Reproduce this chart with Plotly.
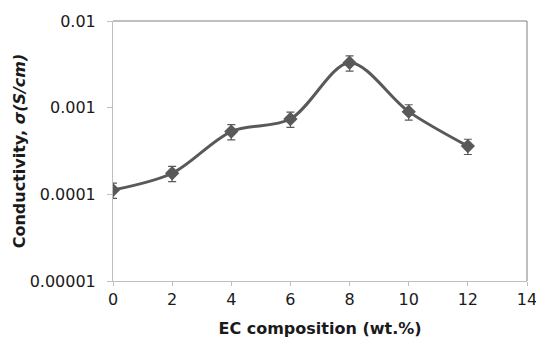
import plotly.graph_objects as go

ec = [0, 2, 4, 6, 8, 10, 12]
conductivity = [1.12e-4, 1.75e-4, 5.3e-4, 7.4e-4, 3.3e-3, 9.0e-4, 3.6e-4]
err_frac = 0.2
errors = [v * err_frac for v in conductivity]

x_ticks = [0, 2, 4, 6, 8, 10, 12, 14]
y_ticks = [1e-5, 1e-4, 1e-3, 1e-2]
y_tick_labels = ["0.00001", "0.0001", "0.001", "0.01"]

grey = "#595959"
font = "DejaVu Sans"

fig = go.Figure()
fig.add_trace(go.Scatter(
    x=ec, y=conductivity, mode="lines+markers",
    line=dict(color=grey, width=3, shape="spline", smoothing=0.9),
    marker=dict(symbol="diamond", size=11, color=grey),
    error_y=dict(type="data", array=errors, visible=True, color=grey, thickness=1.2, width=4),
    showlegend=False,
))

fig.update_layout(
    width=536, height=338,
    margin=dict(l=113, r=9, t=21, b=57, autoexpand=False),
    paper_bgcolor="white", plot_bgcolor="white",
    font=dict(family=font, size=16, color="#1a1a1a"),
    xaxis=dict(range=[0, 14], tickvals=x_ticks, showgrid=False, zeroline=False,
               showline=True, linecolor="#bfbfbf", linewidth=1,
               ticks="outside", ticklen=4, tickcolor="#bfbfbf",
               ticklabeloverflow="allow", automargin=False,
               title=dict(text="<b>EC composition (wt.%)</b>", standoff=15,
                          font=dict(size=16))),
    yaxis=dict(type="log", range=[-5, -2], tickvals=y_ticks, ticktext=y_tick_labels,
               showgrid=False, zeroline=False,
               showline=True, linecolor="#bfbfbf", linewidth=1,
               ticks="outside", ticklen=5, tickcolor="#bfbfbf",
               ticklabelstandoff=8, automargin=False,
               title=dict(text="<b>Conductivity, <i>σ(S/cm)</i></b>", standoff=0,
                          font=dict(size=16))),
    shapes=[
        dict(type="line", xref="paper", yref="paper", x0=0, x1=1, y0=1, y1=1,
             line=dict(color="#7f7f7f", width=1)),
        dict(type="line", xref="paper", yref="paper", x0=1, x1=1, y0=0, y1=1,
             line=dict(color="#7f7f7f", width=1)),
    ],
)

fig.write_html("out.html", config={"displayModeBar": False},
               post_script="document.body.style.margin='0';document.body.style.overflow='hidden';")
